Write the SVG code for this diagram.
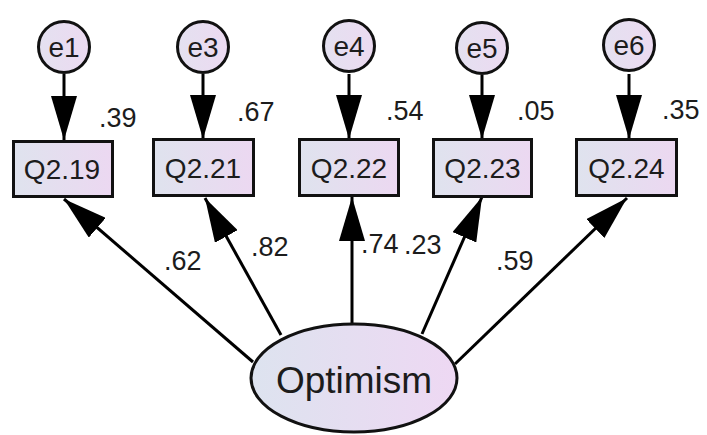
<svg xmlns="http://www.w3.org/2000/svg" width="707" height="435" viewBox="0 0 707 435">
  <defs>
    <linearGradient id="fillObs" x1="0" y1="0" x2="1" y2="0">
      <stop offset="0" stop-color="#dfe3ee"/>
      <stop offset="1" stop-color="#ecd8f1"/>
    </linearGradient>
    <linearGradient id="fillErr" x1="0" y1="0" x2="1" y2="0">
      <stop offset="0" stop-color="#e4e1f0"/>
      <stop offset="1" stop-color="#ecdaf1"/>
    </linearGradient>
    <linearGradient id="fillLat" x1="0" y1="0" x2="1" y2="0">
      <stop offset="0" stop-color="#dde3ef"/>
      <stop offset="1" stop-color="#eed8f3"/>
    </linearGradient>
    <marker id="head" viewBox="0 0 44 26" refX="44" refY="13" markerWidth="44" markerHeight="26" markerUnits="userSpaceOnUse" orient="auto">
      <path d="M0,0 L44,13 L0,26 z" fill="#000"/>
    </marker>
  </defs>
  <style>
    .box { fill: url(#fillObs); stroke: #111; stroke-width: 3; }
    .err { fill: url(#fillErr); stroke: #111; stroke-width: 3; }
    .lat { fill: url(#fillLat); stroke: #111; stroke-width: 3; }
    .edge { stroke: #000; stroke-width: 3; fill: none; marker-end: url(#head); }
    text { font-family: "Liberation Sans", Arial, sans-serif; fill: #1c1c1c; }
    .lbl { font-size: 28px; text-anchor: middle; }
    .coef { font-size: 27px; }
    .big { font-size: 37px; text-anchor: middle; }
  </style>

  <rect width="707" height="435" fill="#fff"/>

  <!-- connectors -->
  <g id="connectors">
    <line class="edge" x1="64" y1="74" x2="64" y2="140"/>
    <line class="edge" x1="203" y1="74" x2="203" y2="139"/>
    <line class="edge" x1="349" y1="74" x2="349" y2="139"/>
    <line class="edge" x1="482" y1="75" x2="482" y2="139"/>
    <line class="edge" x1="629" y1="74" x2="629" y2="139"/>
    <line class="edge" x1="253" y1="362" x2="64" y2="199"/>
    <line class="edge" x1="281" y1="335" x2="205" y2="198"/>
    <line class="edge" x1="352" y1="324" x2="352" y2="197"/>
    <line class="edge" x1="422" y1="334" x2="482" y2="197"/>
    <line class="edge" x1="455" y1="364" x2="627" y2="198"/>
  </g>

  <!-- error terms -->
  <g id="e1"><circle class="err" cx="64" cy="47" r="25.5"/><text class="lbl" x="64" y="57">e1</text></g>
  <g id="e3"><circle class="err" cx="203" cy="47" r="25.5"/><text class="lbl" x="203" y="57">e3</text></g>
  <g id="e4"><circle class="err" cx="349" cy="46" r="25.5"/><text class="lbl" x="349" y="56">e4</text></g>
  <g id="e5"><circle class="err" cx="482" cy="48" r="25.5"/><text class="lbl" x="482" y="58">e5</text></g>
  <g id="e6"><circle class="err" cx="629" cy="45" r="25.5"/><text class="lbl" x="629" y="55">e6</text></g>

  <!-- observed items -->
  <g id="Q2_19"><rect class="box" x="13.5" y="141.5" width="99" height="55"/><text class="lbl" x="62" y="179">Q2.19</text></g>
  <g id="Q2_21"><rect class="box" x="153.5" y="139.5" width="100" height="56"/><text class="lbl" x="203" y="178">Q2.21</text></g>
  <g id="Q2_22"><rect class="box" x="299.5" y="139.5" width="99" height="56"/><text class="lbl" x="349" y="178">Q2.22</text></g>
  <g id="Q2_23"><rect class="box" x="433.5" y="139.5" width="98" height="57"/><text class="lbl" x="482.5" y="178">Q2.23</text></g>
  <g id="Q2_24"><rect class="box" x="576.5" y="139.5" width="100" height="56"/><text class="lbl" x="626.5" y="178">Q2.24</text></g>

  <!-- latent factor -->
  <g id="Optimism"><ellipse class="lat" cx="354" cy="378" rx="103" ry="54"/><text class="big" x="354" y="393">Optimism</text></g>

  <!-- squared multiple correlations -->
  <g id="r2">
    <text class="coef" x="99" y="127">.39</text>
    <text class="coef" x="237" y="121">.67</text>
    <text class="coef" x="386" y="120">.54</text>
    <text class="coef" x="517" y="120">.05</text>
    <text class="coef" x="662" y="119">.35</text>
  </g>

  <!-- standardized loadings -->
  <g id="loadings">
    <text class="coef" x="164" y="270">.62</text>
    <text class="coef" x="251" y="256">.82</text>
    <text class="coef" x="361" y="253">.74</text>
    <text class="coef" x="404" y="254">.23</text>
    <text class="coef" x="496" y="270">.59</text>
  </g>
</svg>
